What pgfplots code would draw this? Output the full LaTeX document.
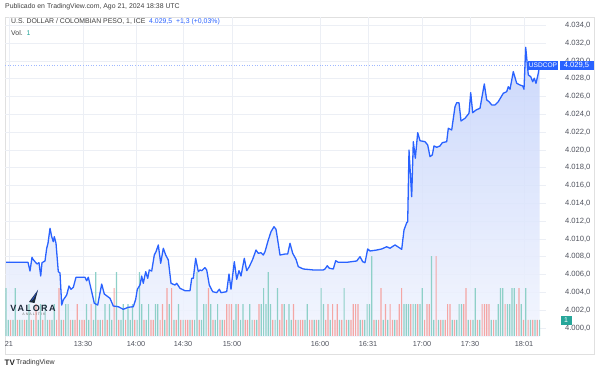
\documentclass[border=0pt]{standalone}
\usepackage{fontspec}
\setmainfont{Liberation Sans}
\usepackage{pgfplots}
\pgfplotsset{compat=1.18}
\usepackage{pgfplotstable}

\definecolor{tvblue}{HTML}{2962FF}
\definecolor{tvteal}{HTML}{8ED0C8}
\definecolor{tvred}{HTML}{F4A6A4}
\definecolor{tealbox}{HTML}{26A69A}
\definecolor{gridc}{HTML}{ECEFF5}
\definecolor{txt}{HTML}{50535E}
\definecolor{fillTop}{HTML}{C3D2FB}
\definecolor{fillBot}{HTML}{F2F5FE}
\definecolor{navy}{HTML}{1E2A3A}

\pgfplotstableread{
x p
6 4007.38
28 4007.38
30 4006.40
32 4007.94
33 4007.72
35 4007.45
37 4007.19
39 4007.34
40.7 4005.84
42 4007.34
45 4007.53
46.7 4008.96
48 4009.52
50 4011.20
51.7 4010.26
53.3 4009.70
54.3 4010.26
56 4009.52
58.3 4006.33
60 4006.18
61.7 4002.58
63.3 4003.15
66.7 4003.71
69 4004.72
71 4004.35
73.3 4004.57
76 4005.70
80 4005.70
85 4005.70
86.7 4005.31
88.3 4005.70
91.7 4004.08
94.3 4002.78
97.7 4002.58
101.7 4004.94
104.3 4003.82
110 4003.34
113.3 4002.47
118.3 4002.39
123.3 4002.10
128.3 4002.33
133.3 4002.39
135.7 4003.22
137.3 4004.35
140 4004.83
141.7 4005.84
143.3 4005.02
145.7 4006.33
147.7 4005.58
149.3 4006.52
151.7 4006.40
154.3 4008.20
156 4008.57
158.3 4009.33
160.7 4007.27
163.3 4008.96
165.7 4008.20
168.3 4007.64
171 4005.02
175 4004.83
176.7 4005.02
180 4004.46
185 4004.19
190 4004.19
191.7 4005.58
193.3 4005.58
195.7 4007.83
198.3 4006.33
200 4006.52
201.7 4006.44
205 4006.78
206.7 4006.52
209.3 4004.83
212.7 4004.08
216.7 4003.97
219.3 4004.35
221 4003.97
226.7 4004.08
229 4006.07
231 4004.35
234.3 4007.45
236.7 4005.47
239 4006.44
241 4005.84
244.3 4007.83
246.7 4006.44
249.3 4006.89
252.7 4007.72
256 4008.76
258.3 4008.39
261 4008.46
263.3 4008.20
265 4008.57
268.3 4009.89
271 4010.82
274 4011.38
276 4011.09
277.7 4009.89
280 4008.20
285 4008.31
287.7 4008.31
290 4009.52
292.7 4008.39
296 4007.72
298.3 4006.89
303.3 4006.63
313.3 4006.52
323.3 4006.52
325 4006.63
327.3 4007.00
329.3 4006.71
333.3 4006.63
335.7 4007.56
338.3 4007.38
346.7 4007.38
356.7 4007.53
360 4008.01
362.7 4007.45
365 4007.34
367.7 4008.88
370 4008.65
376.7 4008.76
381.7 4008.88
386.7 4009.13
390 4008.96
395 4009.33
396.7 4009.21
401.7 4008.84
404 4011.01
406.7 4011.83
407.7 4011.94
409 4020.00
411.7 4014.75
413.3 4020.93
415.3 4019.07
417.7 4021.94
420 4021.04
425 4020.93
427.7 4020.56
430 4019.25
432.3 4019.44
434 4020.45
436.7 4020.30
440 4020.45
442.3 4020.82
446.7 4020.93
448.3 4022.44
451.7 4022.25
455 4024.87
456.7 4025.31
459 4025.31
461 4023.26
465 4023.56
469 4024.12
470.7 4026.44
472.7 4024.19
476 4024.49
480 4024.69
484.3 4027.42
486.7 4025.62
489 4025.43
491.7 4025.06
495 4025.06
498.3 4025.43
503.3 4026.37
506.7 4026.55
508.3 4027.11
510 4026.82
513.3 4028.80
516.7 4027.49
520 4027.30
522.7 4027.19
524 4026.82
525.7 4031.54
528.3 4028.43
530.7 4028.24
532.7 4027.67
534.3 4028.06
536 4027.49
538.3 4028.62
539.5 4029.50
}\price

\pgfplotsset{paneaxis/.style={at={(5pt,37pt)}, anchor=south west, scale only axis,
  width=541pt, height=320pt}}

\begin{document}
\begin{tikzpicture}
\useasboundingbox (0pt,0pt) rectangle (600pt,374pt);
\fill[white] (0pt,0pt) rectangle (600pt,374pt);
\draw[black!12, line width=0.6pt] (5pt,20pt) rectangle (594pt,357pt);

% price axis: grid, labels, area
\begin{axis}[paneaxis,
  xmin=5, xmax=546, ymin=3998.99, ymax=4034.94,
  axis line style={draw=none}, tick style={draw=none},
  grid=major, grid style={gridc, line width=0.6pt},
  xtick={9,83,136,183,232,320,368,422,470,524},
  xticklabels={21,13:30,14:00,14:30,15:00,16:00,16:31,17:00,17:30,18:01},
  ytick={4000,4002,4004,4006,4008,4010,4012,4014,4016,4018,4020,4022,4024,4026,4028,4030,4032,4034},
  yticklabels={{4.000,0},{4.002,0},{4.004,0},{4.006,0},{4.008,0},{4.010,0},{4.012,0},{4.014,0},{4.016,0},{4.018,0},{4.020,0},{4.022,0},{4.024,0},{4.026,0},{4.028,0},{4.030,0},{4.032,0},{4.034,0}},
  yticklabel pos=right,
  yticklabel style={anchor=east, xshift=48pt, font=\fontsize{7.6}{8}\selectfont},
  xticklabel style={font=\fontsize{7.3}{8}\selectfont, yshift=-1pt},
  ticklabel style={text=txt},
  clip=true]
\addplot[draw=none, top color=fillTop, bottom color=fillBot, fill opacity=0.85]
  table[x=x,y=p]{\price} -- (axis cs:539.5,3998.99) -- (axis cs:6,3998.99) -- cycle;
\end{axis}

% volume axis
\begin{axis}[paneaxis,
  xmin=-0.435, xmax=234.78, ymin=-0.0625, ymax=19.94, hide axis]
\addplot[ybar, bar width=1.2pt, bar shift=0pt, fill=tvteal, draw=none] coordinates {
(0,3)(1,1)(3,1)(4,3)(6,1)(7,1)(9,1)(10,2)(12,1)(14,1)(15,2)(17,2)(18,1)(20,1)(21,2)(24,1)(26,2)(27,2)(29,1)(32,1)(35,2)(36,1)(38,1)(39,4)(41,1)(43,2)(45,2)(46,1)(48,4)(50,1)(51,2)(53,2)(54,1)(55,2)(57,1)(58,4)(59,2)(61,1)(62,2)(65,2)(66,2)(69,1)(71,2)(73,1)(75,2)(77,1)(80,1)(82,1)(83,4)(85,1)(86,2)(87,2)(89,2)(91,1)(92,2)(94,1)(99,1)(100,2)(102,1)(103,2)(106,2)(107,1)(109,1)(111,2)(112,3)(113,2)(114,4)(115,2)(117,1)(118,3)(121,2)(123,2)(124,1)(127,1)(130,1)(131,2)(134,1)(136,1)(137,3)(138,2)(141,1)(145,1)(147,3)(149,1)(154,1)(156,1)(157,2)(158,2)(159,5)(161,1)(164,1)(166,1)(169,1)(173,2)(174,2)(175,2)(177,2)(178,2)(180,2)(181,3)(185,5)(186,1)(188,1)(190,1)(194,1)(196,1)(197,2)(198,2)(201,1)(203,1)(204,3)(206,1)(211,1)(213,1)(214,2)(215,3)(216,3)(218,2)(219,2)(220,3)(221,3)(224,2)(226,3)(228,1)(230,1)(232,1)};
\addplot[ybar, bar width=1.2pt, bar shift=0pt, fill=tvred, draw=none] coordinates {
(2,1)(5,1)(8,1)(11,1)(13,2)(16,1)(19,1)(22,1)(23,3)(25,1)(28,1)(30,1)(31,2)(33,1)(34,1)(37,2)(40,1)(42,1)(44,1)(47,3)(49,1)(52,1)(56,1)(60,1)(63,1)(64,1)(67,1)(68,2)(70,3)(72,3)(74,1)(76,1)(78,1)(79,1)(81,1)(84,1)(88,3)(90,1)(93,1)(95,1)(96,2)(97,2)(98,2)(101,2)(104,1)(105,1)(108,1)(110,2)(116,1)(119,1)(120,2)(122,1)(125,2)(126,1)(128,1)(129,1)(132,1)(133,1)(135,1)(139,1)(140,2)(142,2)(143,1)(144,2)(146,1)(148,1)(150,1)(151,2)(152,2)(153,2)(155,1)(160,1)(162,1)(163,3)(165,2)(167,2)(168,1)(170,1)(171,2)(172,3)(176,2)(179,2)(182,1)(183,2)(184,2)(187,5)(189,1)(191,1)(192,2)(193,2)(195,1)(199,2)(200,3)(202,1)(205,1)(207,2)(208,2)(209,2)(210,2)(212,1)(217,2)(222,2)(223,3)(225,1)(227,1)(229,1)(231,1)};
\end{axis}

% price line
\begin{axis}[paneaxis,
  xmin=5, xmax=546, ymin=3998.99, ymax=4034.94, hide axis, clip=false]
\draw[tvblue!45, dotted, line width=0.6pt] (axis cs:5,4029.5) -- (axis cs:530,4029.5);
\addplot[tvblue, line width=1.3pt, line join=round, mark=none] table[x=x,y=p]{\price};
\end{axis}

% header
\node[anchor=west, inner sep=0pt, font=\fontsize{6.9}{8}\selectfont, text=black!75] at (5pt,367pt) {Publicado en TradingView.com, Ago 21, 2024 18:38 UTC};
\node[anchor=west, inner sep=0pt, font=\fontsize{6.9}{8}\selectfont, text=black!75] at (11pt,352pt) {U.S. DOLLAR / COLOMBIAN PESO, 1, ICE\ \ \textcolor{tvblue}{4.029,5\ \ +1,3 (+0,03\%)}};
\node[anchor=west, inner sep=0pt, font=\fontsize{6.9}{8}\selectfont, text=black!75] at (11pt,341pt) {Vol.\ \ \textcolor{tealbox}{1}};

% last price labels
\node[fill=tvblue, text=white, anchor=east, inner sep=1.2pt, minimum height=8.5pt, minimum width=27.5pt, font=\fontsize{6.6}{7}\selectfont] at (558.5pt,308.5pt) {USDCOP};
\node[fill=tvblue, text=white, anchor=west, inner sep=1.2pt, minimum height=8.5pt, minimum width=34pt, font=\fontsize{7.6}{8}\selectfont] at (559.3pt,308.5pt) {4.029,5};
\node[fill=tealbox, text=white, inner sep=1pt, minimum height=9pt, minimum width=11pt, font=\fontsize{7}{7}\selectfont] at (566pt,53.5pt) {1};

% Valora logo
\fill[navy] (29pt,72pt) -- (38pt,84pt) -- (34.5pt,71pt) -- cycle;
\fill[tvblue!70!navy] (31pt,73pt) -- (38pt,84pt) -- (33.5pt,75pt) -- cycle;
\node[inner sep=0pt, font=\bfseries\fontsize{9}{9}\selectfont, text=navy] at (33pt,66pt) {V\,A\,L\,O\,R\,A};
\node[inner sep=0pt, font=\fontsize{3.6}{4}\selectfont, text=black!55] at (34pt,59.5pt) {A\ N\ A\ L\ I\ T\ I\ K};

% footer
\node[anchor=west, inner sep=0pt, font=\bfseries\fontsize{8}{8}\selectfont, text=black!85] at (4.5pt,11pt) {TV};
\node[anchor=west, inner sep=0pt, font=\fontsize{7}{8}\selectfont, text=black!80] at (16pt,11pt) {TradingView};
\end{tikzpicture}
\end{document}
